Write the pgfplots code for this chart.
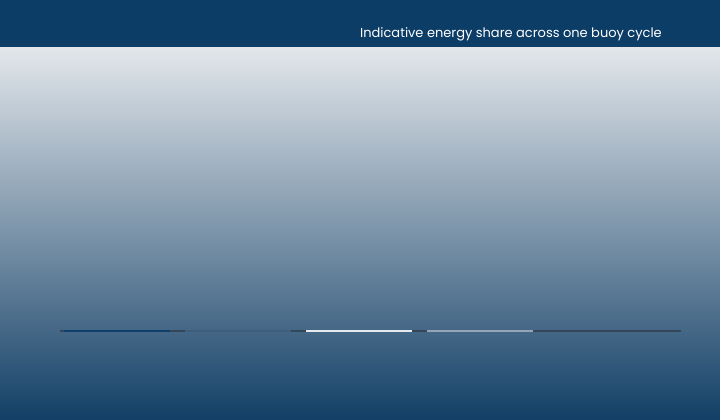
\documentclass[border=0pt]{standalone}
\usepackage{pgfplots}
\pgfplotsset{compat=1.18}
\usepackage{fontspec}
\setmainfont{Poppins}
\definecolor{navy}{HTML}{0B3D66}
\definecolor{bgtop}{HTML}{E3E7EB}
\definecolor{bgbot}{HTML}{123F66}
\definecolor{track}{HTML}{34465A}
\definecolor{segA}{HTML}{0E3F6B}
\definecolor{segB}{HTML}{3E5E7C}
\definecolor{segC}{HTML}{E6EAEE}
\definecolor{segD}{HTML}{93A6B7}
\begin{document}
\begin{tikzpicture}[x=1pt,y=1pt]
% background
\fill[top color=bgtop, bottom color=bgbot] (0,0) rectangle (720,373);
\fill[navy] (0,373) rectangle (720,420);
\node[anchor=east, text=white, inner sep=0pt, font=\fontsize{13}{15}\selectfont] at (662,385.5) {Indicative energy share across one buoy cycle};
\begin{axis}[
    at={(117pt,88pt)}, anchor=origin,
    scale only axis,
    width=621pt, height=200pt,
    xmin=-0.471, xmax=4.661,
    ymin=0, ymax=100,
    hide axis,
    clip=false,
    ]
% track
\addplot[track, line width=2pt, forget plot] coordinates {(-0.471,0.5) (4.661,0.5)};
\addplot[ybar, bar width=106pt, bar shift=0pt, fill=segA, draw=none] coordinates {(0,0.8)};
\addplot[ybar, bar width=106pt, bar shift=0pt, fill=segB, draw=none] coordinates {(1,0.8)};
\addplot[ybar, bar width=106pt, bar shift=0pt, fill=segC, draw=none] coordinates {(2,0.8)};
\addplot[ybar, bar width=106pt, bar shift=0pt, fill=segD, draw=none] coordinates {(3,0.8)};
\addplot[ybar, bar width=106pt, bar shift=0pt, fill=track, draw=none] coordinates {(4,0.8)};
\end{axis}
\end{tikzpicture}
\end{document}
